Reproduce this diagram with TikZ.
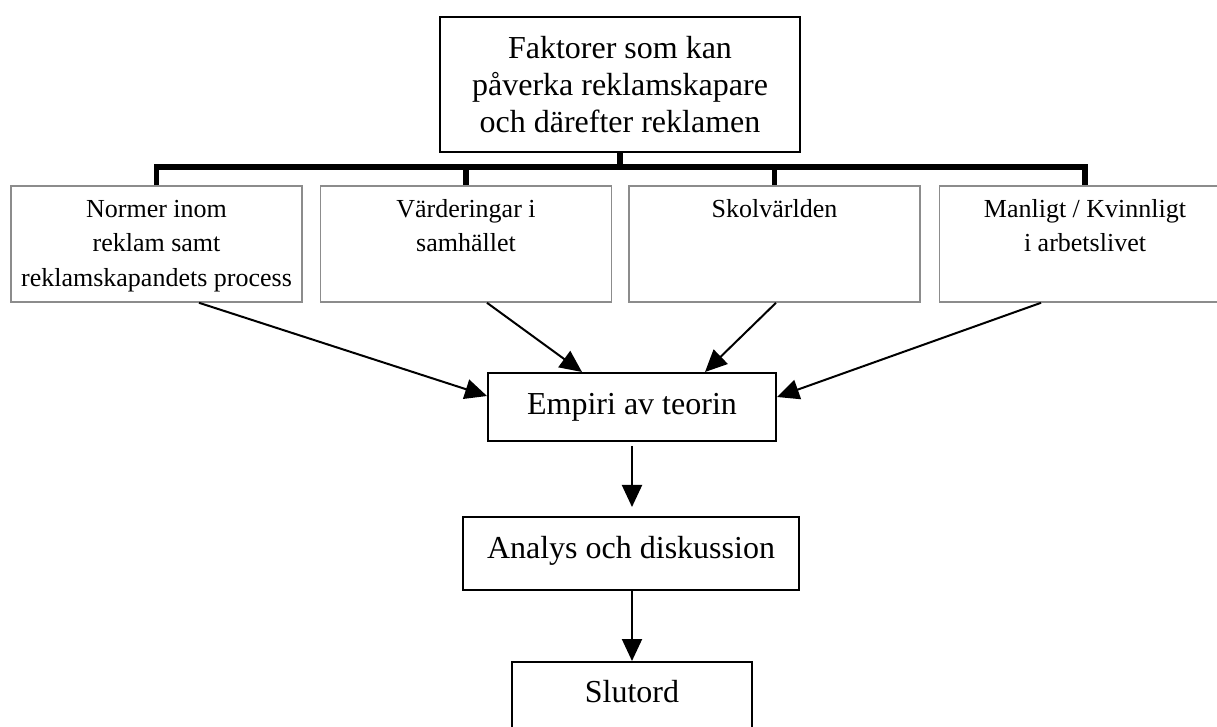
\documentclass[tikz,border=0pt]{standalone}
\usepackage{fontspec}
\setmainfont{Liberation Serif}
\usepackage{tikz}
\usetikzlibrary{arrows.meta,positioning}
\usepackage{xcolor}
\definecolor{boxgray}{RGB}{140,140,140}
\tikzstyle{arrow} = [line width=1pt,-{Triangle[length=11pt,width=10pt]}]
\tikzstyle{mainbox} = [draw,line width=1pt,font=\fontsize{16}{18.5}\selectfont,align=center]
\tikzstyle{factorbox} = [draw=boxgray,line width=0.8pt,minimum width=145.5pt,minimum height=58pt,inner ysep=2pt,text height=47.5pt,text depth=5pt,font=\fontsize{13}{17.25}\selectfont,align=center]
\tikzstyle{bus} = [line width=2.8pt]

\begin{document}
\begin{tikzpicture}[x=0.5pt,y=-0.5pt]
\useasboundingbox (0,0) rectangle (1217,727);
\clip (0,0) rectangle (1217,727);

% Top box
\node[mainbox, minimum width=180pt, minimum height=67.5pt] (fakt) at (620,84.5)
  {Faktorer som kan\\påverka reklamskapare\\och därefter reklamen};

% Factors
\node[factorbox] (norm) at (156.5,244) {Normer inom\\reklam samt\\reklamskapandets process};
\node[factorbox] (verd) at (466,244) {Värderingar i\\samhället\\\strut};
\node[factorbox] (skol) at (774.5,244) {Skolvärlden\\\strut\\\strut};
\node[factorbox] (manl) at (1085,244) {Manligt / Kvinnligt\\i arbetslivet\\\strut};

% Tree lines
\coordinate (bus) at (620,167);
\draw[bus] (fakt.south) -- (bus);
\draw[bus] (norm.north) |- (bus) -| (manl.north);
\draw[bus] (verd.north) -- (verd.north |- bus);
\draw[bus] (skol.north) -- (skol.north |- bus);

% Flow
\node[mainbox, minimum width=144pt, minimum height=34pt] (emp) at (632,407) {Empiri av teorin};
\node[mainbox, minimum width=168pt, minimum height=36.5pt, text depth=6.5pt] (anal) at (631,553.5) {Analys och diskussion};
\node[mainbox, minimum width=120pt, minimum height=36.5pt, text depth=7.5pt] (slut) at (632,698.5) {Slutord};

% Arrows
\draw[arrow] ([xshift=21.25pt]norm.south) -- ([yshift=5.5pt]emp.west);
\draw[arrow] ([xshift=10.5pt]verd.south) -- ([xshift=-25pt]emp.north);
\draw[arrow] ([xshift=0.75pt]skol.south) -- ([xshift=36.5pt]emp.north);
\draw[arrow] ([xshift=-22pt]manl.south) -- ([yshift=5pt]emp.east);
\draw[arrow] ([yshift=-2pt]emp.south) -- ([yshift=4.5pt]emp.south |- anal.north);
\draw[arrow] (anal.south -| slut.north) -- (slut.north);
\end{tikzpicture}
\end{document}
